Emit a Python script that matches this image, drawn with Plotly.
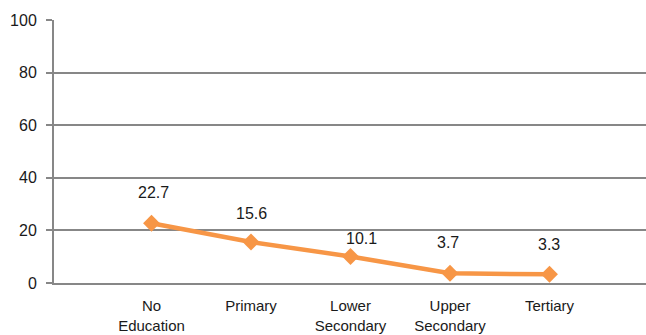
import plotly.graph_objects as go

# Education levels and values
categories = ["No<br>Education", "Primary", "Lower<br>Secondary", "Upper<br>Secondary", "Tertiary"]
values = [22.7, 15.6, 10.1, 3.7, 3.3]
y_ticks = [0, 20, 40, 60, 80, 100]

# Per-label nudges (pixels) for the value labels above the points
label_yshift = [31, 28, 18, 31, 30]
label_xshift = [2, 0, 11, -2, 0]

ORANGE = "#F79646"
GRID = "#878787"
FONT = dict(family="Liberation Sans, Arial, sans-serif", size=16, color="#1a1a1a")
XFONT = dict(family="Liberation Sans, Arial, sans-serif", size=15, color="#1a1a1a")

x_pos = list(range(len(categories)))

fig = go.Figure()
fig.add_trace(go.Scatter(
    x=x_pos,
    y=values,
    mode="lines+markers",
    line=dict(color=ORANGE, width=4.5),
    marker=dict(symbol="diamond", size=13, color=ORANGE),
    hoverinfo="skip",
    showlegend=False,
    cliponaxis=False,
))

for xi, v, dy, dx in zip(x_pos, values, label_yshift, label_xshift):
    fig.add_annotation(
        x=xi, y=v, text=f"{v}", showarrow=False,
        yanchor="middle", xanchor="center",
        yshift=dy, xshift=dx, font=FONT,
    )

fig.update_layout(
    width=646,
    height=335,
    autosize=False,
    margin=dict(l=54, r=0, t=20, b=52, pad=0),
    paper_bgcolor="white",
    plot_bgcolor="white",
    font=FONT,
    xaxis=dict(
        range=[-0.98, 4.97],
        tickmode="array",
        tickvals=x_pos,
        ticktext=categories,
        showgrid=False,
        zeroline=False,
        showline=True,
        linecolor=GRID,
        linewidth=2,
        ticks="",
        ticklabelstandoff=8,
        tickfont=XFONT,
        automargin=False,
    ),
    yaxis=dict(
        range=[0, 100],
        tickmode="array",
        tickvals=y_ticks,
        showgrid=True,
        gridcolor=GRID,
        gridwidth=2,
        zeroline=False,
        showline=True,
        linecolor=GRID,
        linewidth=2,
        ticks="outside",
        ticklen=6,
        tickwidth=2,
        tickcolor=GRID,
        ticklabelstandoff=6,
        tickfont=FONT,
        automargin=False,
    ),
)

fig.write_html("out.html")
